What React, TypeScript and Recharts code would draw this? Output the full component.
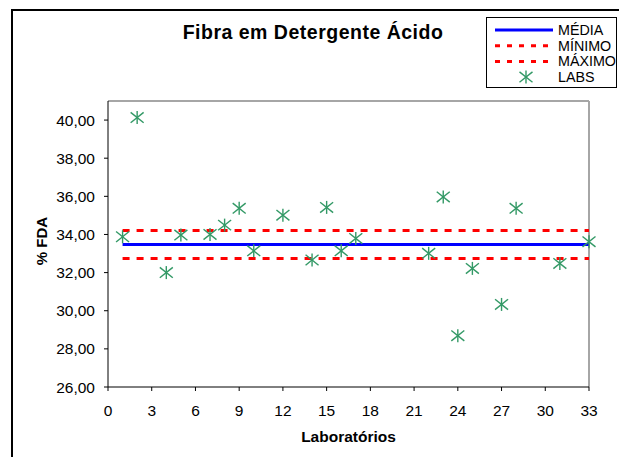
import {
  ComposedChart,
  Line,
  Scatter,
  XAxis,
  YAxis,
  Legend,
  ReferenceLine,
} from "recharts";

// laboratory results (% FDA)
const labs = [1, 2, 4, 5, 7, 8, 9, 10, 12, 14, 15, 16, 17, 22, 23, 24, 25, 27, 28, 31, 33];
const results = [
  33.88, 40.13, 32.0, 33.97, 34.0, 34.49, 35.37, 33.14, 35.01, 32.66, 35.42,
  33.14, 33.79, 33.01, 35.97, 28.69, 32.22, 30.33, 35.37, 32.48, 33.62,
];

const labRange = [1, 33];
const media = 33.48;
const minimo = 32.74;
const maximo = 34.21;

const xTicks = [0, 3, 6, 9, 12, 15, 18, 21, 24, 27, 30, 33];
const yTicks = [26, 28, 30, 32, 34, 36, 38, 40];

const scatterData = labs.map((lab, i) => ({ lab, value: results[i] }));
const flat = (v: number) => labRange.map((lab) => ({ lab, value: v }));

const FONT = "Arial, 'Liberation Sans', sans-serif";
const GREEN = "#339966";

// ðŸ”¹ Excel-like star marker (X with a vertical bar)
function Star(props: any) {
  const { cx, cy } = props;
  if (cx == null || cy == null) return null;
  const r = 6.5;
  return (
    <g stroke={GREEN} strokeWidth={1.4}>
      <line x1={cx - r} y1={cy - r * 0.8} x2={cx + r} y2={cy + r * 0.8} />
      <line x1={cx - r} y1={cy + r * 0.8} x2={cx + r} y2={cy - r * 0.8} />
      <line x1={cx} y1={cy - r} x2={cx} y2={cy + r} />
    </g>
  );
}

function LegendBox() {
  const rows = [
    { label: "MÉDIA", kind: "solid" },
    { label: "MÍNIMO", kind: "dash" },
    { label: "MÁXIMO", kind: "dash" },
    { label: "LABS", kind: "star" },
  ];
  return (
    <svg width={131} height={72} style={{ display: "block", overflow: "visible" }}>
      <rect x={0.5} y={0.5} width={130} height={70} fill="#fff" stroke="#000" />
      {rows.map((r, i) => {
        const y = 13 + i * 15.7;
        return (
          <g key={r.label}>
            {r.kind === "solid" && (
              <line x1={9} x2={67} y1={y} y2={y} stroke="#0000ff" strokeWidth={3} />
            )}
            {r.kind === "dash" && (
              <line
                x1={9}
                x2={67}
                y1={y}
                y2={y}
                stroke="#ff0000"
                strokeWidth={3}
                strokeDasharray="5 7"
              />
            )}
            {r.kind === "star" && <Star cx={40} cy={y} />}
            <text
              x={72}
              y={y}
              dominantBaseline="central"
              fontFamily={FONT}
              fontSize={14.3}
              fill="#000"
            >
              {r.label}
            </text>
          </g>
        );
      })}
    </svg>
  );
}

export default function App() {
  return (
    <div
      style={{
        position: "fixed",
        left: 0,
        top: 0,
        width: 619,
        height: 457,
        overflow: "hidden",
        background: "#fff",
        fontFamily: FONT,
      }}
    >
      {/* chart area frame */}
      <div
        style={{
          position: "absolute",
          left: 11,
          top: 9,
          width: 800,
          height: 600,
          borderLeft: "2px solid #000",
          borderTop: "2px solid #000",
        }}
      />
      <div
        style={{
          position: "absolute",
          left: 0,
          width: 626,
          top: 21,
          textAlign: "center",
          fontWeight: "bold",
          fontSize: 19.5,
          letterSpacing: 0.5,
          color: "#000",
        }}
      >
        Fibra em Detergente Ácido
      </div>

      <ComposedChart
        width={619}
        height={457}
        margin={{ top: 101, right: 30, bottom: 15, left: 48 }}
        style={{ position: "absolute", left: 0, top: 0 }}
      >
        <XAxis
          type="number"
          dataKey="lab"
          domain={[0, 33]}
          ticks={xTicks}
          interval={0}
          height={55}
          stroke="#000"
          tickSize={4}
          tickMargin={14}
          tick={{ fontSize: 15.5, fill: "#000", fontFamily: FONT }}
          label={{
            value: "Laboratórios",
            position: "insideBottom",
            offset: 0,
            fontSize: 15.5,
            fontWeight: "bold",
            fill: "#000",
            fontFamily: FONT,
          }}
          allowDuplicatedCategory={false}
        />
        <YAxis
          type="number"
          dataKey="value"
          domain={[26, 41]}
          ticks={yTicks}
          interval={0}
          width={60}
          stroke="#000"
          tickSize={4}
          tickMargin={9}
          tick={{ fontSize: 15.5, fill: "#000", fontFamily: FONT }}
          tickFormatter={(v: number) => v.toFixed(2).replace(".", ",")}
          label={{
            content: () => (
              <text
                x={41}
                y={241}
                transform="rotate(-90 41 241)"
                textAnchor="middle"
                dominantBaseline="central"
                fontSize={15}
                fontWeight="bold"
                fontFamily={FONT}
                fill="#000"
              >
                % FDA
              </text>
            ),
          }}
        />

        {/* plot area border (top/right) */}
        <ReferenceLine y={41} stroke="#a6a6a6" strokeWidth={2} />
        <ReferenceLine x={33} stroke="#a6a6a6" strokeWidth={2} />

        <Line
          data={flat(maximo)}
          dataKey="value"
          stroke="#ff0000"
          strokeWidth={3}
          strokeDasharray="7 7"
          dot={false}
          isAnimationActive={false}
        />
        <Line
          data={flat(minimo)}
          dataKey="value"
          stroke="#ff0000"
          strokeWidth={3}
          strokeDasharray="7 7"
          dot={false}
          isAnimationActive={false}
        />
        <Line
          data={flat(media)}
          dataKey="value"
          stroke="#0000ff"
          strokeWidth={3}
          dot={false}
          isAnimationActive={false}
        />
        <Scatter
          data={scatterData}
          dataKey="value"
          shape={<Star />}
          isAnimationActive={false}
        />

        <Legend
          layout="vertical"
          align="center"
          verticalAlign="middle"
          wrapperStyle={{ position: "absolute", left: 486, top: 17, width: 131, height: 72 }}
          content={() => <LegendBox />}
        />
      </ComposedChart>
    </div>
  );
}
